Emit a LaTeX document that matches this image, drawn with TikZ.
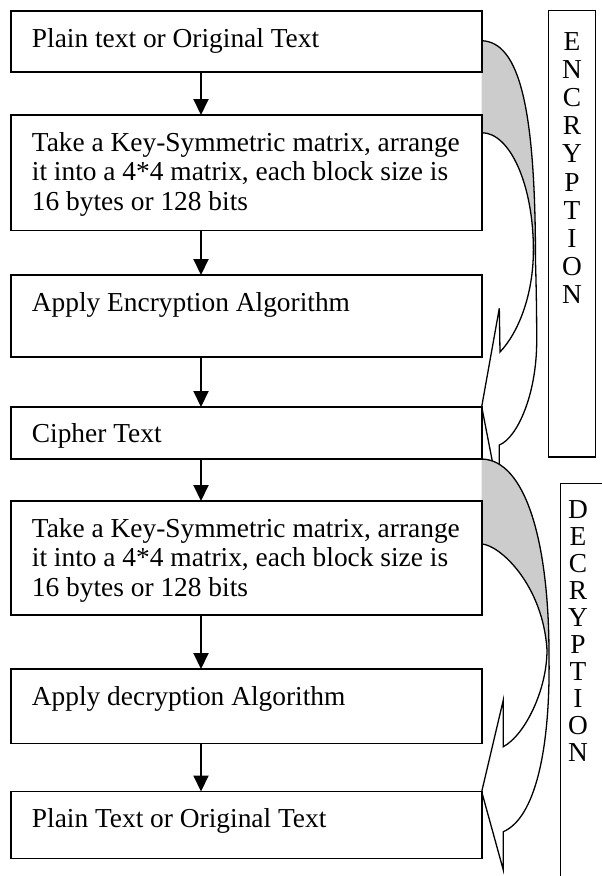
\documentclass[tikz,border=0pt]{standalone}
\usepackage{fontspec}
\setmainfont{Liberation Serif}
\usetikzlibrary{arrows.meta}
\definecolor{backgray}{gray}{0.8}
\begin{document}
\begin{tikzpicture}[x=1pt,y=-1pt,
  box/.style={draw, line width=1.8pt, inner sep=0pt, outer sep=0pt, anchor=north west, minimum width=470.7pt},
  txt/.style={anchor=base west, inner sep=0pt, align=left, font=\fontsize{27.4}{29.5}\selectfont},
  flow/.style={line width=2pt, -{Triangle[length=16pt,width=15pt]}},
  curve/.style={line width=1.3pt, line join=miter},
  lbl/.style={draw, line width=1.5pt, inner sep=0pt, outer sep=0pt, anchor=north west},
  letters/.style={anchor=base, inner sep=0pt, align=center}
]
\useasboundingbox (0,0) rectangle (602,876);
\clip (0,0) rectangle (602,876);

% encryption curved arrow
\fill[backgray] (481.7,40.7) .. controls (520,42) and (535.5,110) .. (535.5,262) -- (533.4,250) .. controls (533.4,185.2) and (510.2,132.7) .. (481.7,132.7) -- cycle;
\draw[curve] (481.7,40.7) .. controls (520,42) and (535.5,110) .. (535.5,262)
  .. controls (536.5,295) and (536.7,320) .. (536.7,341)
  .. controls (536.7,395) and (517,438) .. (499.3,445)
  -- (499.3,497) -- (481.7,406.7) -- (499.3,308.3) -- (500,352)
  .. controls (518,333) and (533.4,295.6) .. (533.4,250)
  .. controls (533.4,185.2) and (510.2,132.7) .. (481.7,132.7);

% decryption curved arrow
\fill[backgray] (481.7,459) .. controls (525,460) and (549,540) .. (549,655) -- (547,650) .. controls (543,585) and (500,545) .. (481.7,544) -- cycle;
\draw[curve] (481.7,459) .. controls (525,460) and (549,540) .. (549,655)
  .. controls (550.5,750) and (535,818) .. (503.3,831.7)
  -- (503.3,870) -- (481.7,791.7) -- (503.3,700) -- (503.3,746.7)
  .. controls (525,735) and (547,690) .. (547,650)
  .. controls (543,585) and (500,545) .. (481.7,544);

% boxes
\node[box, minimum height=61pt] (b1) at (11,11) {};
\node[box, minimum height=115.5pt] (b2) at (11,115) {};
\node[box, minimum height=82pt] (b3) at (11,275) {};
\node[box, minimum height=52pt] (b4) at (11,407) {};
\node[box, minimum height=114pt] (b5) at (11,501) {};
\node[box, minimum height=74.5pt] (b6) at (11,669) {};
\node[box, minimum height=67pt] (b7) at (11,791.5) {};

% texts (base anchor of a multi-line node = last line)
\node[txt] (t1) at (31.7,47) {Plain text or Original Text};
\node[txt] (t2) at (31.7,210) {Take a Key-Symmetric matrix, arrange\\it into a 4*4 matrix, each block size is\\16 bytes or 128 bits};
\node[txt] (t3) at (31.7,311) {Apply Encryption Algorithm};
\node[txt] (t4) at (31.7,442) {Cipher Text};
\node[txt] (t5) at (31.7,596) {Take a Key-Symmetric matrix, arrange\\it into a 4*4 matrix, each block size is\\16 bytes or 128 bits};
\node[txt] (t6) at (31.7,705) {Apply decryption Algorithm};
\node[txt] (t7) at (31.7,827) {Plain Text or Original Text};

% flow arrows
\coordinate (ax) at (201,0);
\draw[flow] (b1.south -| ax) -- (b2.north -| ax);
\draw[flow] (b2.south -| ax) -- (b3.north -| ax);
\draw[flow] (b3.south -| ax) -- (b4.north -| ax);
\draw[flow] (b4.south -| ax) -- (b5.north -| ax);
\draw[flow] (b5.south -| ax) -- (b6.north -| ax);
\draw[flow] (b6.south -| ax) -- (b7.north -| ax);

% side labels
\node[lbl, minimum width=47.2pt, minimum height=446.3pt] (encbox) at (548.5,10.7) {};
\node[letters, font=\fontsize{27.4}{28.1}\selectfont] (enc) at (572,303.4) {E\\N\\C\\R\\Y\\P\\T\\I\\O\\N};
\draw[line width=1.5pt] (610,483.5) coordinate (dtr) -- (560.5,483.5) coordinate (dtl) -- (560.5,890) coordinate (dbl);
\node[letters, font=\fontsize{27.4}{26.9}\selectfont] (dec) at (578,761) {D\\E\\C\\R\\Y\\P\\T\\I\\O\\N};
\end{tikzpicture}
\end{document}
